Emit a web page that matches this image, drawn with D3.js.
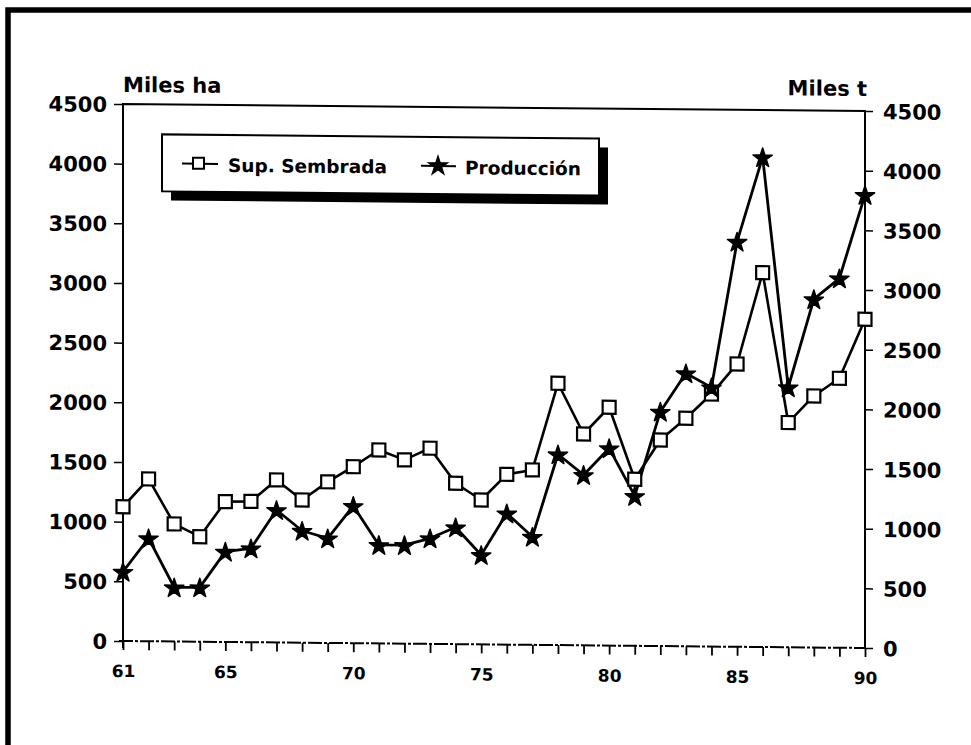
<!DOCTYPE html>
<html>
<head>
<meta charset="utf-8">
<script src="https://cdn.jsdelivr.net/npm/d3@7"></script>
<style>
  html, body { margin: 0; padding: 0; background: #fff; }
  text { font-family: "DejaVu Sans", sans-serif; font-weight: bold; fill: #000; }
</style>
</head>
<body>
<svg id="chart"></svg>
<script>
// datos
const years = d3.range(61, 91);
const supSembrada = [1125, 1360, 985, 880, 1176, 1180, 1362, 1196, 1350, 1479,
  1621, 1540, 1640, 1348, 1210, 1427, 1466, 2194, 1771, 1997,
  1396, 1727, 1911, 2116, 2370, 3137, 1883, 2108, 2258, 2755];
const produccion = [581, 863, 454, 456, 757, 787, 1110, 938, 877, 1150,
  825, 826, 885, 979, 749, 1100, 906, 1599, 1428, 1654,
  1256, 1964, 2288, 2172, 3395, 4105, 2179, 2919, 3096, 3797];
const yTicks = [0, 500, 1000, 1500, 2000, 2500, 3000, 3500, 4000, 4500];
const xLabels = [61, 65, 70, 75, 80, 85, 90];

const width = 971, height = 745;
const plotLeft = 123, plotRight = 865, plotTop = 104, plotBottom = 641;

const svg = d3.select("#chart").attr("width", width).attr("height", height);

// marco grueso del escaneo
svg.append("path")
  .attr("d", `M8,745 V10 H971`)
  .attr("fill", "none")
  .attr("stroke", "#000")
  .attr("stroke-width", 5.5);

// el escaneo está ligeramente inclinado
const g = svg.append("g")
  .attr("transform", `translate(${plotLeft},0) skewY(0.54) translate(${-plotLeft},0)`);

const x = d3.scaleLinear().domain([61, 90]).range([plotLeft, plotRight]);
const y = d3.scaleLinear().domain([0, 4500]).range([plotBottom, plotTop]);

// eje izquierdo
g.append("g")
  .attr("transform", `translate(${plotLeft},0)`)
  .call(d3.axisLeft(y).tickValues(yTicks).tickSize(9).tickPadding(7).tickFormat(d3.format("d")))
  .call((a) => a.select(".domain").remove())
  .call((a) => a.selectAll("line").attr("stroke-width", 1.5))
  .call((a) => a.selectAll("text").attr("font-size", 21).attr("font-family", null).attr("dy", "0.36em"));

// eje derecho
g.append("g")
  .attr("transform", `translate(${plotRight},0)`)
  .call(d3.axisRight(y).tickValues(yTicks).tickSize(8).tickPadding(10).tickFormat(d3.format("d")))
  .call((a) => a.select(".domain").remove())
  .call((a) => a.selectAll("line").attr("stroke-width", 1.5))
  .call((a) => a.selectAll("text").attr("font-size", 21).attr("font-family", null).attr("dy", "0.36em"));

// eje X
g.append("g")
  .attr("transform", `translate(0,${plotBottom})`)
  .call(d3.axisBottom(x).tickValues(years).tickSize(9).tickPadding(15)
    .tickFormat((d) => (xLabels.includes(d) ? String(d).padStart(2, "0") : "")))
  .call((a) => a.select(".domain").remove())
  .call((a) => a.selectAll("line").attr("stroke-width", 1.8))
  .call((a) => a.selectAll("text").attr("font-size", 17).attr("font-family", null));

// marco del área de trazado
g.append("path")
  .attr("d", `M${plotLeft},${plotBottom + 7} V${plotTop} H${plotRight} V${plotBottom}`)
  .attr("fill", "none")
  .attr("stroke", "#000")
  .attr("stroke-width", 2);
g.append("line")
  .attr("x1", plotLeft - 4).attr("x2", plotRight)
  .attr("y1", plotBottom).attr("y2", plotBottom)
  .attr("stroke", "#000")
  .attr("stroke-width", 2)
  .attr("stroke-dasharray", "14,2,3,2");

// títulos de los ejes
g.append("text").attr("x", plotLeft).attr("y", 92).attr("font-size", 21).text("Miles ha");
g.append("text").attr("x", plotRight + 2).attr("y", 89).attr("font-size", 21)
  .attr("text-anchor", "end").text("Miles t");

// líneas
const line = (vals) => d3.line().x((d, i) => x(years[i])).y((d) => y(d))(vals);

g.append("path")
  .attr("d", line(supSembrada))
  .attr("fill", "none")
  .attr("stroke", "#000")
  .attr("stroke-width", 2.6)
  .attr("stroke-linejoin", "round");

g.append("path")
  .attr("d", line(produccion))
  .attr("fill", "none")
  .attr("stroke", "#000")
  .attr("stroke-width", 2.8)
  .attr("stroke-linejoin", "round");

const star = d3.symbol().type(d3.symbolStar).size(115);

// marcadores
g.append("g").selectAll("rect")
  .data(supSembrada)
  .enter()
  .append("rect")
  .attr("x", (d, i) => x(years[i]) - 6.5)
  .attr("y", (d) => y(d) - 6.5)
  .attr("width", 13)
  .attr("height", 13)
  .attr("fill", "#fff")
  .attr("stroke", "#000")
  .attr("stroke-width", 2.2);

g.append("g").selectAll("path")
  .data(produccion)
  .enter()
  .append("path")
  .attr("d", star)
  .attr("transform", (d, i) => `translate(${x(years[i])},${y(d) + 1})`)
  .attr("fill", "#000")
  .attr("stroke", "#000")
  .attr("stroke-width", 1.5)
  .attr("stroke-linejoin", "round");

// leyenda con sombra
const lg = g.append("g");
lg.append("rect")
  .attr("x", 171).attr("y", 143).attr("width", 437).attr("height", 57)
  .attr("fill", "#000");
lg.append("rect")
  .attr("x", 162).attr("y", 134).attr("width", 437).attr("height", 57)
  .attr("fill", "#fff")
  .attr("stroke", "#000")
  .attr("stroke-width", 2);

lg.append("line").attr("x1", 182).attr("x2", 218).attr("y1", 163).attr("y2", 163)
  .attr("stroke", "#000").attr("stroke-width", 2);
lg.append("rect").attr("x", 193).attr("y", 157).attr("width", 11).attr("height", 11)
  .attr("fill", "#fff").attr("stroke", "#000").attr("stroke-width", 2);
lg.append("text").attr("x", 228).attr("y", 171).attr("font-size", 18.5).text("Sup. Sembrada");

lg.append("line").attr("x1", 421).attr("x2", 456).attr("y1", 163).attr("y2", 163)
  .attr("stroke", "#000").attr("stroke-width", 2);
lg.append("path").attr("d", star).attr("transform", "translate(438,163)")
  .attr("fill", "#000").attr("stroke", "#000").attr("stroke-width", 1.2);
lg.append("text").attr("x", 465).attr("y", 171).attr("font-size", 18.5).text("Producción");
</script>
</body>
</html>
